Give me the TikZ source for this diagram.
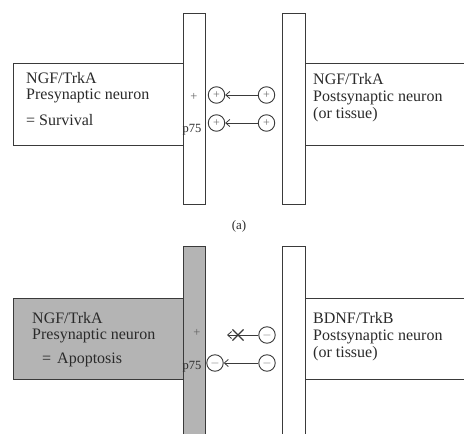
\documentclass[tikz,border=0pt]{standalone}
\usepackage{fontspec}
\setmainfont{Liberation Serif}
\usetikzlibrary{arrows.meta,shapes.misc}
\definecolor{lineC}{HTML}{3A3A3A}
\definecolor{shadeC}{HTML}{B4B4B4}
\definecolor{textC}{HTML}{2A2A2A}
\begin{document}
\begin{tikzpicture}[x=1pt,y=-1pt,
  box/.style={draw=lineC,line width=1pt},
  bartxt/.style={font=\fontsize{16}{17}\selectfont,text=textC,inner sep=0pt,anchor=base west},
  sign/.style={circle,draw=lineC,line width=0.9pt,minimum size=16.5pt,inner sep=0pt,font=\fontsize{12}{12}\selectfont,text=lineC!75},
  conn/.style={draw=lineC,line width=0.8pt,-{Straight Barb[length=4pt,width=7pt]}},
  small/.style={font=\fontsize{12.5}{12.5}\selectfont,text=textC,inner sep=0pt}]
\useasboundingbox (0,0) rectangle (464,434);
\clip (0,0) rectangle (464,434);
% ---------- panel (a)
\path[box,fill=white] (13,63) rectangle (183,145);
\path[box,fill=white] (183,13) rectangle (205,204);
\path[box,fill=white] (282,13) rectangle (305,204);
\path[box,fill=white] (305,63) rectangle (480,145);
\node[bartxt] (a1) at (26,83) {NGF/TrkA};
\node[bartxt] (a2) at (26,99) {Presynaptic neuron};
\node[bartxt] (a3) at (26,125) {= Survival};
\node[bartxt] (a4) at (313,84) {NGF/TrkA};
\node[bartxt] (a5) at (313,101) {Postsynaptic neuron};
\node[bartxt] (a6) at (313,118) {(or tissue)};
\node[small,text=lineC!80] (aplus) at (194,97) {+};
\node[small,anchor=west] (ap75) at (182.5,130) {p75};
\node[sign] (aL1) at (216.5,95) {+};
\node[sign] (aL2) at (216.5,123) {+};
\node[sign] (aR1) at (266.5,95) {+};
\node[sign] (aR2) at (266.5,123) {+};
\draw[conn] (aR1) -- (aL1);
\draw[conn] (aR2) -- (aL2);
\node[font=\fontsize{13}{13}\selectfont,text=textC] (cap) at (239,226) {(a)};
% ---------- panel (b)
\path[box,fill=shadeC] (13,298) rectangle (183,379);
\path[box,fill=shadeC] (183,246) rectangle (205,440);
\path[box,fill=white] (282,246) rectangle (305,440);
\path[box,fill=white] (305,298) rectangle (480,379);
\node[bartxt] (b1) at (32,323) {NGF/TrkA};
\node[bartxt] (b2) at (32,339) {Presynaptic neuron};
\node[bartxt] (b3) at (42,363) {=\hspace{6pt}Apoptosis};
\node[bartxt] (b4) at (313,323) {BDNF/TrkB};
\node[bartxt] (b5) at (313,340) {Postsynaptic neuron};
\node[bartxt] (b6) at (313,357) {(or tissue)};
\node[small,text=lineC!80] (bplus) at (197,333) {+};
\node[small,anchor=west] (bp75) at (182.5,367) {p75};
\node[sign] (bR1) at (267,335) {$-$};
\node[sign] (bL2) at (215,363) {$-$};
\node[sign] (bR2) at (267,363) {$-$};
\coordinate (bend) at (227,335);
\draw[conn] (bR1) -- (bend);
\node[draw=lineC,line width=1.1pt,cross out,minimum size=10pt,inner sep=0pt] (bx) at (238,335) {};
\draw[conn] (bR2) -- (bL2);
\end{tikzpicture}
\end{document}
